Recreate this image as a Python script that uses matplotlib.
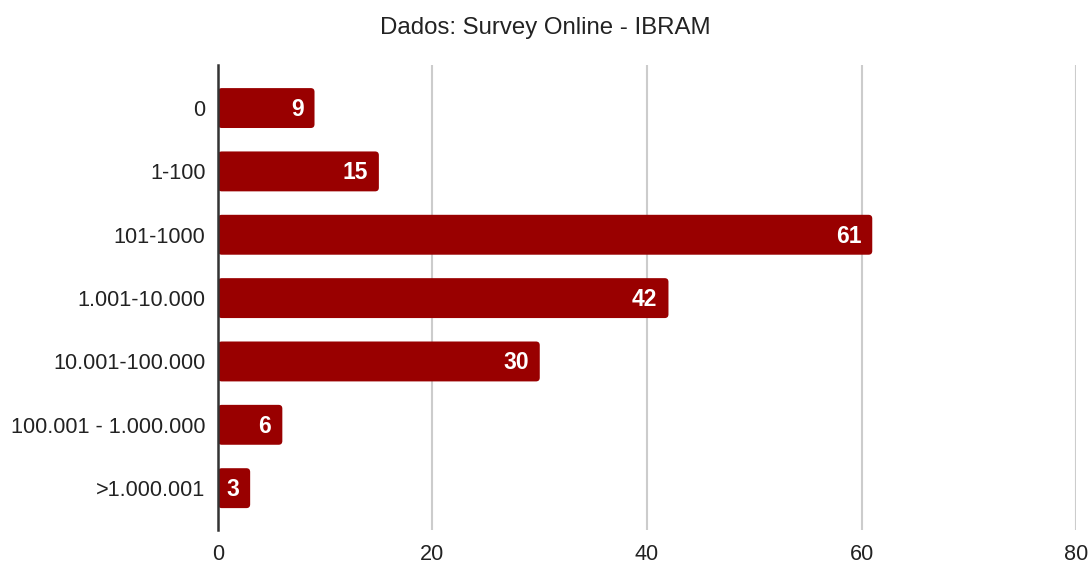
import matplotlib.pyplot as plt
from matplotlib.patches import FancyBboxPatch

plt.rcParams["font.family"] = ["Liberation Sans", "DejaVu Sans"]

categories = ["0", "1-100", "101-1000", "1.001-10.000", "10.001-100.000",
              "100.001 - 1.000.000", ">1.000.001"]
values = [9, 15, 61, 42, 30, 6, 3]
x_ticks = [0, 20, 40, 60, 80]

BAR_COLOR = "#990000"

fig = plt.figure(figsize=(10.91, 5.65), dpi=100)
ax = fig.add_axes([0.1998, 0.062, 0.7865, 0.823])

ypos = list(range(len(categories)))
bars = ax.barh(ypos, values, height=0.63, color=BAR_COLOR, zorder=3)

# swap plain rectangles for rounded ones
for rect in bars:
    x, y = rect.get_x(), rect.get_y()
    w, h = rect.get_width(), rect.get_height()
    rect.set_visible(False)
    rb = FancyBboxPatch((x, y), w, h,
                        boxstyle="round,pad=0,rounding_size=0.35",
                        mutation_aspect=0.17,
                        facecolor=BAR_COLOR, edgecolor="none", zorder=3)
    ax.add_patch(rb)

for yy, v in zip(ypos, values):
    ax.annotate(str(v), xy=(v, yy), xytext=(-8, -1), textcoords="offset points",
                ha="right", va="center", color="white", fontsize=16.5,
                fontweight="bold", zorder=4)

ax.set_xlim(0, 80)
ax.set_ylim(6.66, -0.68)
ax.set_yticks(ypos)
ax.set_yticklabels(categories, fontsize=15.6, color="#222222")
ax.set_xticks(x_ticks)
ax.set_xticklabels([str(t) for t in x_ticks], fontsize=15.6, color="#222222")
ax.tick_params(axis="both", length=0)
ax.tick_params(axis="y", pad=9)
ax.tick_params(axis="x", pad=10)

ax.grid(axis="x", color="#cccccc", linewidth=1.5, zorder=0)
ax.set_axisbelow(True)
for s in ["top", "right", "bottom"]:
    ax.spines[s].set_visible(False)
ax.spines["left"].set_color("#333333")
ax.spines["left"].set_linewidth(1.8)
ax.spines["left"].set_zorder(5)

fig.text(0.5, 0.95, "Dados: Survey Online - IBRAM", ha="center", va="center",
         fontsize=17.3, color="#222222")

fig.savefig("out.png", dpi=100)
